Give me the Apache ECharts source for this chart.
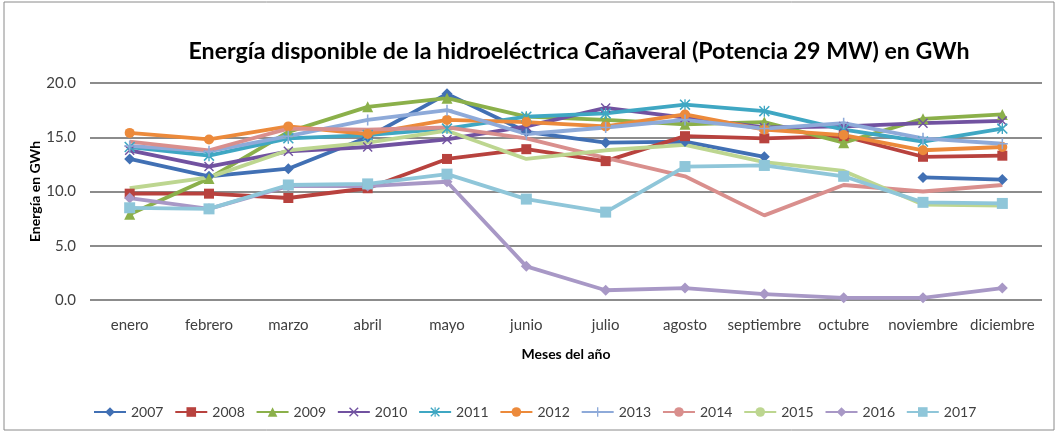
<!DOCTYPE html>
<html>
<head>
<meta charset="utf-8">
<script src="https://cdn.jsdelivr.net/npm/echarts@6/dist/echarts.min.js"></script>
<style>
  html, body { margin: 0; padding: 0; background: #fff; }
  #chart { width: 1060px; height: 433px; }
</style>
</head>
<body>
<div id="chart"></div>
<script>
const months = ['enero', 'febrero', 'marzo', 'abril', 'mayo', 'junio', 'julio', 'agosto', 'septiembre', 'octubre', 'noviembre', 'diciembre']
const years = ['2007', '2008', '2009', '2010', '2011', '2012', '2013', '2014', '2015', '2016', '2017']
const yTicks = [0, 5, 10, 15, 20]

const v2007 = [13.0, 11.4, 12.1, 15.0, 19.0, 15.5, 14.5, 14.6, 13.2, null, 11.3, 11.1]
const v2008 = [9.8, 9.8, 9.4, 10.3, 13.0, 13.9, 12.8, 15.1, 14.9, 15.1, 13.2, 13.3]
const v2009 = [7.9, 11.2, 15.5, 17.8, 18.6, 16.9, 16.6, 16.2, 16.4, 14.5, 16.7, 17.1]
const v2010 = [13.8, 12.3, 13.7, 14.1, 14.8, 16.0, 17.7, 16.8, 15.9, 16.0, 16.3, 16.5]
const v2011 = [14.1, 13.3, 14.9, 15.2, 15.8, 16.9, 17.2, 18.0, 17.4, 15.7, 14.6, 15.8]
const v2012 = [15.4, 14.8, 16.0, 15.3, 16.6, 16.4, 16.0, 17.1, 15.7, 15.2, 13.8, 14.1]
const v2013 = [14.2, 13.7, 15.1, 16.6, 17.5, 15.3, 15.9, 16.6, 15.8, 16.3, 14.9, 14.4]
const v2014 = [14.6, 13.8, 15.8, 15.7, 15.9, 14.9, 13.1, 11.4, 7.8, 10.6, 10.0, 10.6]
const v2015 = [10.3, 11.3, 13.8, 14.5, 15.6, 13.0, 13.8, 14.3, 12.7, 11.9, 8.8, 8.7]
const v2016 = [9.4, 8.4, 10.5, 10.5, 10.9, 3.1, 0.9, 1.1, 0.55, 0.2, 0.2, 1.1]
const v2017 = [8.5, 8.4, 10.6, 10.7, 11.6, 9.3, 8.1, 12.3, 12.4, 11.4, 9.0, 8.9]

const seriesValues = [v2007, v2008, v2009, v2010, v2011, v2012, v2013, v2014, v2015, v2016, v2017]

// Excel style markers that echarts lacks
const X_MARK = 'path://M0,1L1,0L5,4L9,0L10,1L6,5L10,9L9,10L5,6L1,10L0,9L4,5Z'
const STAR_MARK = 'path://M0,1L1,0L10,9L9,10Z M9,0L10,1L1,10L0,9Z M4.4,0H5.6V10H4.4Z'
const PLUS_MARK = 'path://M4.3,0H5.7V10H4.3Z M0,4.3H10V5.7H0Z'

const colors = ['#4170b4', '#b8423e', '#8bb04a', '#7152a0', '#3fa7c3', '#ec8a3b', '#8eaad9', '#d98f8d', '#bdd690', '#a898c6', '#8fc6d9']
const symbols = ['diamond', 'rect', 'triangle', X_MARK, STAR_MARK, 'circle', PLUS_MARK, 'none', 'none', 'diamond', 'rect']
const symbolSizes = [11, 10, 11, 10, 11, 10, 11, 0, 0, 11, 11]

const FONT = 'Lato, "Open Sans", sans-serif'

const chart = echarts.init(document.getElementById('chart'))

chart.setOption({
  animation: false,
  color: colors,
  title: {
    text: 'Energía disponible de la hidroeléctrica Cañaveral (Potencia 29 MW) en GWh',
    left: 574,
    top: 35,
    textAlign: 'center',
    textStyle: { fontFamily: FONT, fontSize: 23.2, fontWeight: 'bold', color: '#000' }
  },
  graphic: [{
    type: 'rect',
    shape: { x: 4, y: 2, width: 1050, height: 428 },
    style: { fill: 'none', stroke: '#8a8a8a', lineWidth: 1 },
    silent: true
  }],
  legend: {
    data: years,
    left: 88,
    top: 400,
    itemWidth: 32,
    itemHeight: 12,
    itemGap: 10.8,
    textStyle: { fontFamily: FONT, fontSize: 14, color: '#404040' }
  },
  grid: { left: 90, right: 18, top: 83, bottom: 133 },
  xAxis: {
    type: 'category',
    data: months,
    boundaryGap: true,
    name: 'Meses del año',
    nameLocation: 'middle',
    nameGap: 47,
    nameTextStyle: { fontFamily: FONT, fontSize: 14, fontWeight: 'bold', color: '#000' },
    axisLine: { show: false },
    axisTick: { show: false },
    axisLabel: { fontFamily: FONT, fontSize: 15, color: '#404040', margin: 18, interval: 0 }
  },
  yAxis: {
    type: 'value',
    min: yTicks[0],
    max: yTicks[yTicks.length - 1],
    interval: 5,
    name: 'Energía en GWh',
    nameLocation: 'middle',
    nameGap: 48,
    nameMoveOverlap: false,
    nameTextStyle: { fontFamily: FONT, fontSize: 14, fontWeight: 'bold', color: '#000' },
    axisLine: { show: false },
    axisTick: { show: false },
    axisLabel: {
      fontFamily: FONT, fontSize: 15, color: '#404040', margin: 14,
      formatter: (v) => v.toFixed(1)
    },
    splitLine: { lineStyle: { color: '#8c8c8c', width: 2 } }
  },
  series: years.map((year, i) => ({
    name: year,
    type: 'line',
    data: seriesValues[i],
    symbol: symbols[i],
    symbolSize: symbolSizes[i],
    showSymbol: symbols[i] !== 'none',
    connectNulls: false,
    lineStyle: { width: 3.8, color: colors[i] },
    itemStyle: { color: colors[i] },
    emphasis: { disabled: true }
  }))
})
</script>
</body>
</html>
